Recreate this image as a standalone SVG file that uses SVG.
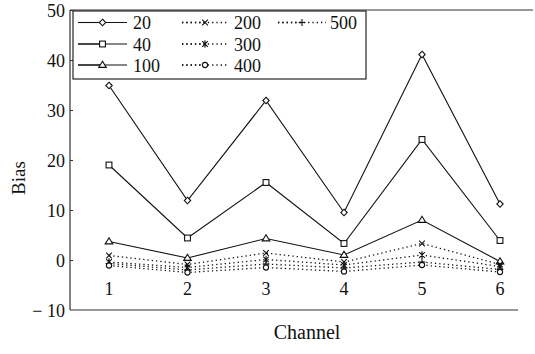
<svg xmlns="http://www.w3.org/2000/svg" width="535" height="354" viewBox="0 0 535 354" font-family="'Liberation Serif', 'Times New Roman', Times, serif">
<style>
text{font-family:'Liberation Serif','Times New Roman',Times,serif;font-size:18px;fill:#111}
.ax{stroke:#333;stroke-width:1.2;fill:none}
.solid{stroke:#111;stroke-width:1.1;fill:none}
.dot{stroke:#111;stroke-width:1.3;fill:none;stroke-dasharray:1.3 3}
.mk{stroke:#111;stroke-width:1.1;fill:#fff}
.mkl{stroke:#111;stroke-width:1.1;fill:none}
</style>
<defs>
<marker id="mD" markerUnits="userSpaceOnUse" markerWidth="10" markerHeight="10" refX="5" refY="5" overflow="visible"><path class="mk" d="M5 1.7 L8.2 5 L5 8.3 L1.8 5 Z"/></marker>
<marker id="mS" markerUnits="userSpaceOnUse" markerWidth="10" markerHeight="10" refX="5" refY="5" overflow="visible"><rect class="mk" x="2.1" y="2.1" width="5.8" height="5.8"/></marker>
<marker id="mT" markerUnits="userSpaceOnUse" markerWidth="10" markerHeight="10" refX="5" refY="5" overflow="visible"><path class="mk" d="M5 1.2 L8.8 7.4 L1.2 7.4 Z"/></marker>
<marker id="mX" markerUnits="userSpaceOnUse" markerWidth="10" markerHeight="10" refX="5" refY="5" overflow="visible"><path class="mkl" d="M2.2 2.2 L7.8 7.8 M7.8 2.2 L2.2 7.8"/></marker>
<marker id="mA" markerUnits="userSpaceOnUse" markerWidth="10" markerHeight="10" refX="5" refY="5" overflow="visible"><path class="mkl" d="M2.2 2.2 L7.8 7.8 M7.8 2.2 L2.2 7.8 M5 1.2 L5 8.8"/></marker>
<marker id="mO" markerUnits="userSpaceOnUse" markerWidth="10" markerHeight="10" refX="5" refY="5" overflow="visible"><circle class="mk" cx="5" cy="5" r="2.6"/></marker>
<marker id="mP" markerUnits="userSpaceOnUse" markerWidth="10" markerHeight="10" refX="5" refY="5" overflow="visible"><path class="mkl" d="M5 1.6 L5 8.4 M1.6 5 L8.4 5"/></marker>
</defs>

<g id="axes">
<path class="ax" d="M70 10 L533 10 M70 10 L70 310 M70 310 L518 310"/>
<path class="ax" d="M70 10.5 h3 M70 60.5 h3 M70 110.5 h3 M70 160.5 h3 M70 210.5 h3 M70 260.5 h3"/>
<g text-anchor="end">
<text x="65" y="17">50</text>
<text x="65" y="67">40</text>
<text x="65" y="117">30</text>
<text x="65" y="167">20</text>
<text x="65" y="217">10</text>
<text x="65" y="267">0</text>
<text x="65" y="317">− 10</text>
</g>
<g text-anchor="middle">
<text x="109" y="295">1</text>
<text x="187.5" y="295">2</text>
<text x="266" y="295">3</text>
<text x="344" y="295">4</text>
<text x="422" y="295">5</text>
<text x="500" y="295">6</text>
<text x="307" y="339" style="font-size:20px">Channel</text>
<text transform="translate(25 178) rotate(-90)" style="font-size:19px">Bias</text>
</g>
</g>

<g id="series">
<polyline id="s20" class="solid" points="109,85.5 187.5,200.5 266,100.5 344,212.5 422,54.5 500,204" marker-start="url(#mD)" marker-mid="url(#mD)" marker-end="url(#mD)"/>
<polyline id="s40" class="solid" points="109,165 187.5,238 266,182.5 344,243.5 422,139.5 500,240.5" marker-start="url(#mS)" marker-mid="url(#mS)" marker-end="url(#mS)"/>
<polyline id="s100" class="solid" points="109,241.5 187.5,258 266,238.5 344,255 422,220 500,261.5" marker-start="url(#mT)" marker-mid="url(#mT)" marker-end="url(#mT)"/>
<polyline id="s200" class="dot" points="109,255.5 187.5,264.5 266,253 344,262 422,243.5 500,264.5" marker-start="url(#mX)" marker-mid="url(#mX)" marker-end="url(#mX)"/>
<polyline id="s300" class="dot" points="109,262 187.5,267.5 266,259.5 344,265 422,255 500,266.5" marker-start="url(#mA)" marker-mid="url(#mA)" marker-end="url(#mA)"/>
<polyline id="s500" class="dot" points="109,263.5 187.5,270 266,264 344,268 422,262 500,269.5" marker-start="url(#mP)" marker-mid="url(#mP)" marker-end="url(#mP)"/>
<polyline id="s400" class="dot" points="109,265.5 187.5,272.5 266,267.5 344,271.5 422,265 500,272" marker-start="url(#mO)" marker-mid="url(#mO)" marker-end="url(#mO)"/>
</g>

<g id="legend">
<rect x="73" y="11" width="293" height="68" fill="#fff" stroke="#111" stroke-width="1.1"/>
<path class="solid" d="M78 22.5 H127"/><path class="solid" d="M78 22.5 H102.5" marker-end="url(#mD)"/>
<path class="solid" d="M78 44 H127"/><path class="solid" d="M78 44 H102.5" marker-end="url(#mS)"/>
<path class="solid" d="M78 65 H127"/><path class="solid" d="M78 65 H102.5" marker-end="url(#mT)"/>
<path class="dot" d="M182 22.5 H228"/><path class="dot" d="M182 22.5 H205" stroke="none" marker-end="url(#mX)"/>
<path class="dot" d="M182 44 H228"/><path class="dot" d="M182 44 H205" stroke="none" marker-end="url(#mA)"/>
<path class="dot" d="M182 65 H228"/><path class="dot" d="M182 65 H205" stroke="none" marker-end="url(#mO)"/>
<path class="dot" d="M278 22.5 H326"/><path class="dot" d="M278 22.5 H302" stroke="none" marker-end="url(#mP)"/>
<text x="133" y="29">20</text>
<text x="133" y="50.5">40</text>
<text x="133" y="71.5">100</text>
<text x="234" y="29">200</text>
<text x="234" y="50.5">300</text>
<text x="234" y="71.5">400</text>
<text x="330" y="29">500</text>
</g>
</svg>
